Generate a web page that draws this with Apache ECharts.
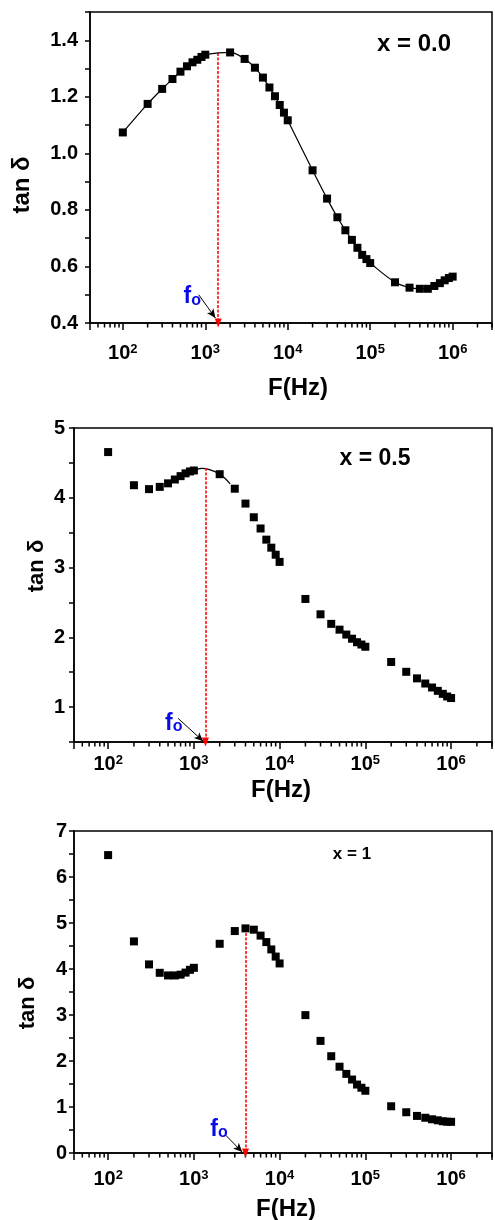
<!DOCTYPE html>
<html><head><meta charset="utf-8">
<script src="https://cdn.jsdelivr.net/npm/echarts@6/dist/echarts.min.js"></script>
<style>html,body{margin:0;padding:0;background:#fff}#c{width:495px;height:1220px}</style>
</head><body><div id="c"></div>
<script>
// ---- data ----
const freq = [100,200,300,400,500,600,700,800,900,1000,2000,3000,4000,5000,6000,7000,8000,9000,
  10000,20000,30000,40000,50000,60000,70000,80000,90000,100000,200000,300000,400000,500000,600000,700000,800000,900000,1000000];
const tanD_x00 = [1.074,1.175,1.228,1.263,1.289,1.308,1.322,1.331,1.341,1.349,1.357,1.334,1.303,1.268,1.233,1.202,1.171,1.144,
  1.117,0.940,0.840,0.774,0.728,0.694,0.666,0.641,0.626,0.612,0.544,0.525,0.521,0.521,0.531,0.541,0.551,0.559,0.564];
const tanD_x05 = [4.655,4.180,4.124,4.156,4.207,4.262,4.310,4.350,4.377,4.391,4.338,4.130,3.917,3.721,3.560,3.400,3.285,3.184,
  3.081,2.55,2.33,2.193,2.11,2.04,1.98,1.93,1.897,1.865,1.647,1.506,1.412,1.338,1.281,1.233,1.190,1.152,1.130];
const tanD_x10 = [6.476,4.600,4.100,3.917,3.860,3.860,3.877,3.922,3.982,4.026,4.548,4.825,4.883,4.855,4.726,4.585,4.426,4.270,
  4.121,2.997,2.437,2.104,1.876,1.720,1.597,1.488,1.419,1.353,1.016,0.886,0.806,0.766,0.733,0.711,0.690,0.680,0.678];
// fitted peak curve for x = 0.5
const fitF_x05 = [600,800,1000,1250,1550,2000,2300,2650];
const fitV_x05 = [4.262,4.350,4.391,4.420,4.400,4.340,4.280,4.200];
// relaxation frequency f0 and its curve value
const f0 = [1435, 1365, 4000];
const f0Top = [1.355, 4.425, 4.883];
// f_o label anchor and its black arrow (start -> tip) in data units
const foLabel = [[695,0.493],[582,0.766],[1963,0.516]];
const foArrowStart = [[832,0.500],[656,0.838],[2361,0.385]];
const foArrowEnd = [[1327,0.418],[1282,0.511],[3664,0.02]];
const panelTitles = ['x = 0.0','x = 0.5','x = 1'];
const yMin = [0.4,0.5,0];
const yMax = [1.5,5,7];
const yStep = [0.1,0.5,0.5];
const minorF = [50,60,70,80,90,200,300,400,500,600,700,800,900,2000,3000,4000,5000,6000,7000,8000,9000,
  20000,30000,40000,50000,60000,70000,80000,90000,200000,300000,400000,500000,600000,700000,800000,900000,2000000,3000000];

const FONT = 'Liberation Sans';
const BLUE = '#0a0ae6';
const RED = '#ff0000';
const chart = echarts.init(document.getElementById('c'), null, {renderer:'canvas'});

const grids = [
  {left:90, top:12, width:415, height:311},
  {left:74, top:428, width:419, height:314},
  {left:74, top:831, width:427, height:322}
];
const xLabelMargin = [20,12,16];
const yLabelMargin = [12,9,7];
const yLabelFn = [
  v => (Math.abs(v*5-Math.round(v*5))<1e-6 && v<1.45) ? v.toFixed(1) : '',
  v => Math.abs(v-Math.round(v))<1e-6 ? String(Math.round(v)) : '',
  v => Math.abs(v-Math.round(v))<1e-6 ? String(Math.round(v)) : ''
];

const xAxes = grids.map((g,i)=>({
  type:'log', logBase:10, min:40, max:3000000, gridIndex:i,
  axisLine:{show:true, lineStyle:{color:'#000', width:1.5}},
  axisTick:{show:true, inside:false, length:7, lineStyle:{color:'#000', width:1.5}},
  splitLine:{show:false},
  axisLabel:{
    color:'#000', margin:xLabelMargin[i],
    formatter: v => { const l = Math.log10(v), e = Math.round(l); return Math.abs(l-e)<1e-6 ? '{b|10}{s|'+e+'}' : ''; },
    rich:{
      b:{fontSize:20, fontWeight:'bold', fontFamily:FONT, color:'#000'},
      s:{fontSize:13, fontWeight:'bold', fontFamily:FONT, color:'#000', padding:[0,0,8,0]}
    }
  }
}));
const yAxes = grids.map((g,i)=>({
  type:'value', min:yMin[i], max:yMax[i], interval:yStep[i], gridIndex:i,
  axisLine:{show:true, lineStyle:{color:'#000', width:1.5}},
  axisTick:{show:true, inside:false, length:5, lineStyle:{color:'#000', width:1.5}},
  splitLine:{show:false},
  axisLabel:{color:'#000', fontSize:20, fontWeight:'bold', fontFamily:FONT, margin:yLabelMargin[i], formatter:yLabelFn[i]}
}));

const dataSets = [tanD_x00, tanD_x05, tanD_x10];
const series = [];
dataSets.forEach((vals,i)=>{
  series.push({
    type: i===0 ? 'line' : 'scatter', xAxisIndex:i, yAxisIndex:i,
    data: freq.map((f,k)=>[f, vals[k]]),
    symbol:'rect', symbolSize: 8,
    smooth: i===0 ? 0.35 : undefined,
    showSymbol:true,
    itemStyle:{color:'#000', opacity:1},
    lineStyle:{color:'#000', width:1.2},
    z:5,
    markLine:{
      silent:true, animation:false,
      label:{show:false},
      symbol:['none','triangle'], symbolSize:[7,9], symbolRotate:180,
      lineStyle:{color:RED, type:[3,1.5], width:1.5, opacity:1},
      data:[[{coord:[f0[i], f0Top[i]]}, {coord:[f0[i], yMin[i]]}]]
    }
  });
  // minor x ticks
  series.push({
    type:'scatter', xAxisIndex:i, yAxisIndex:i, silent:true, clip:false,
    data: minorF.map(f=>[f, yMin[i]]),
    symbol:'rect', symbolSize:[1.5,4.5], symbolOffset:[0,2.25],
    itemStyle:{color:'#000', opacity:1}, z:1, animation:false
  });
  // f_o label + black arrow
  series.push({
    type:'scatter', xAxisIndex:i, yAxisIndex:i, silent:true,
    data:[foLabel[i]], symbolSize:0.1, itemStyle:{color:'#ffffff', opacity:1},
    label:{show:true, position:'inside', opacity:1, formatter:'{f|f}{o|o}',
      rich:{
        f:{fontSize:23, fontWeight:'bold', fontFamily:FONT, color:BLUE},
        o:{fontSize:16, fontWeight:'bold', fontFamily:FONT, color:BLUE, padding:[7,0,0,0]}
      }},
    markLine:{
      silent:true, animation:false, label:{show:false},
      symbol:['none','arrow'], symbolSize:[6,9],
      itemStyle:{color:'#000', opacity:1},
      lineStyle:{color:'#000', type:'solid', width:1, opacity:1},
      data:[[{coord:foArrowStart[i]}, {coord:foArrowEnd[i]}]]
    },
    z:6, animation:false
  });
});
series.push({
  type:'line', xAxisIndex:1, yAxisIndex:1, data: fitF_x05.map((f,k)=>[f, fitV_x05[k]]),
  smooth:0.4, showSymbol:false, symbol:'none', lineStyle:{color:'#000', width:1.2}, z:4
});

const txt = (x,y,text,size,rot) => ({type:'text', x, y, rotation: rot||0,
  style:{text, font:'bold '+size+'px "'+FONT+'"', fill:'#000', align:'center', verticalAlign:'middle'}});
const graphics = [
  txt(22,185,'tan δ',24,Math.PI/2),
  txt(298,388,'F(Hz)',24),
  txt(414,44,panelTitles[0],24),
  txt(37,566,'tan δ',22,Math.PI/2),
  txt(281,790,'F(Hz)',24),
  txt(375,459,panelTitles[1],23),
  txt(28,1003,'tan δ',22,Math.PI/2),
  txt(286,1209,'F(Hz)',24),
  txt(352,854,panelTitles[2],17)
];

chart.setOption({
  animation:false,
  backgroundColor:'#fff',
  grid: grids.map(g=>Object.assign({show:true, borderColor:'#000', borderWidth:1.5, backgroundColor:'transparent'}, g)),
  xAxis: xAxes, yAxis: yAxes, series, graphic: graphics
});
</script></body></html>
